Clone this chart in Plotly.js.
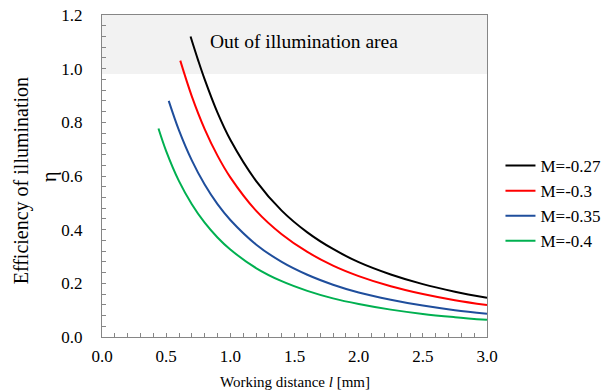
<!DOCTYPE html>
<html>
<head>
<meta charset="utf-8">
<script src="https://cdn.plot.ly/plotly-3.0.1.min.js"></script>
<style>
  html, body { margin: 0; padding: 0; background: #ffffff; }
  #chart { width: 605px; height: 390px; }
</style>
</head>
<body>
<div id="chart"></div>
<script>
// Working distance l [mm] and illumination efficiency for each magnification M
const seriesNames = ['M=-0.27', 'M=-0.3', 'M=-0.35', 'M=-0.4'];
const seriesColors = ['#000000', '#ff0000', '#1f4e9c', '#00b050'];

const distM027 = [0.69, 0.75, 0.8, 0.9, 1.0, 1.2, 1.4, 1.6, 1.8, 2.0, 2.25, 2.5, 2.75, 3.0];
const etaM027  = [1.12, 1.03, 0.96, 0.836, 0.735, 0.582, 0.471, 0.39, 0.328, 0.279, 0.233, 0.197, 0.169, 0.146];

const distM030 = [0.61, 0.7, 0.8, 0.9, 1.0, 1.2, 1.4, 1.6, 1.8, 2.0, 2.25, 2.5, 2.75, 3.0];
const etaM030  = [1.03, 0.897, 0.775, 0.676, 0.595, 0.471, 0.383, 0.317, 0.266, 0.227, 0.189, 0.16, 0.137, 0.119];

const distM035 = [0.52, 0.6, 0.7, 0.8, 0.9, 1.0, 1.2, 1.4, 1.6, 1.8, 2.0, 2.25, 2.5, 2.75, 3.0];
const etaM035  = [0.88, 0.77, 0.658, 0.568, 0.495, 0.436, 0.345, 0.28, 0.232, 0.195, 0.166, 0.139, 0.117, 0.1, 0.087];

const distM040 = [0.44, 0.5, 0.6, 0.7, 0.8, 0.9, 1.0, 1.2, 1.4, 1.6, 1.8, 2.0, 2.25, 2.5, 2.75, 3.0];
const etaM040  = [0.777, 0.693, 0.581, 0.495, 0.426, 0.371, 0.326, 0.257, 0.208, 0.172, 0.144, 0.123, 0.102, 0.086, 0.074, 0.064];

// Boundary of the region that lies outside the illumination area
const outsideAreaFrom = 0.98;
const outsideAreaTo = 1.2;

const xs = [distM027, distM030, distM035, distM040];
const ys = [etaM027, etaM030, etaM035, etaM040];

const serif = "'Times New Roman', 'Liberation Serif', serif";
const axisGray = '#868686';

const traces = seriesNames.map((name, i) => ({
  type: 'scatter',
  mode: 'lines',
  name: name,
  x: xs[i],
  y: ys[i],
  line: { color: seriesColors[i], width: 2, shape: 'spline', smoothing: 1 },
  hoverinfo: 'skip'
}));

const layout = {
  width: 605,
  height: 390,
  margin: { l: 102, r: 118, t: 15, b: 53, autoexpand: false },
  paper_bgcolor: '#ffffff',
  plot_bgcolor: '#ffffff',
  font: { family: serif, size: 16, color: '#000000' },
  showlegend: true,
  legend: {
    x: 1.035, xanchor: 'left',
    y: 0.587, yanchor: 'top',
    bgcolor: 'rgba(0,0,0,0)',
    font: { family: serif, size: 17, color: '#000000' },
    traceorder: 'normal'
  },
  xaxis: {
    range: [0, 3.0],
    dtick: 0.5,
    tickformat: '.1f',
    ticks: 'inside',
    ticklen: 4,
    tickcolor: axisGray,
    showline: true,
    linecolor: axisGray,
    linewidth: 1,
    mirror: true,
    showgrid: false,
    zeroline: false,
    ticklabelstandoff: 4,
    tickfont: { family: serif, size: 17, color: '#000000' },
    minor: { dtick: 0.1, ticks: 'inside', ticklen: 4, tickcolor: axisGray, showgrid: false }
  },
  yaxis: {
    range: [0, 1.2],
    dtick: 0.2,
    tickformat: '.1f',
    ticks: 'inside',
    ticklen: 4,
    tickcolor: axisGray,
    showline: true,
    linecolor: axisGray,
    linewidth: 1,
    mirror: true,
    showgrid: false,
    zeroline: false,
    ticklabelstandoff: 15,
    tickfont: { family: serif, size: 17, color: '#000000' },
    minor: { dtick: 0.04, ticks: 'inside', ticklen: 4, tickcolor: axisGray, showgrid: false }
  },
  shapes: [{
    type: 'rect', xref: 'x', yref: 'y', layer: 'below',
    x0: 0, x1: 3.0, y0: outsideAreaFrom, y1: outsideAreaTo,
    fillcolor: '#f2f2f2', line: { width: 0 }
  }],
  annotations: [
    {
      text: 'Out of illumination area', xref: 'x', yref: 'y',
      x: 0.826, y: 1.1, xanchor: 'left', yanchor: 'middle',
      showarrow: false, font: { family: serif, size: 19.5, color: '#000000' }
    },
    {
      text: 'Efficiency of illumination', xref: 'paper', yref: 'paper',
      x: -0.21, y: 0.484, xanchor: 'center', yanchor: 'middle', textangle: -90,
      showarrow: false, font: { family: serif, size: 20, color: '#000000' }
    },
    {
      text: 'η', xref: 'paper', yref: 'paper',
      x: -0.135, y: 0.497, xanchor: 'center', yanchor: 'middle', textangle: -90,
      showarrow: false, font: { family: serif, size: 20, color: '#000000' }
    },
    {
      text: 'Working distance <i>l</i> [mm]', xref: 'paper', yref: 'paper',
      x: 0.5, y: -0.14, xanchor: 'center', yanchor: 'middle',
      showarrow: false, font: { family: serif, size: 15, color: '#000000' }
    }
  ]
};

Plotly.newPlot('chart', traces, layout, { staticPlot: true, displayModeBar: false });
</script>
</body>
</html>
